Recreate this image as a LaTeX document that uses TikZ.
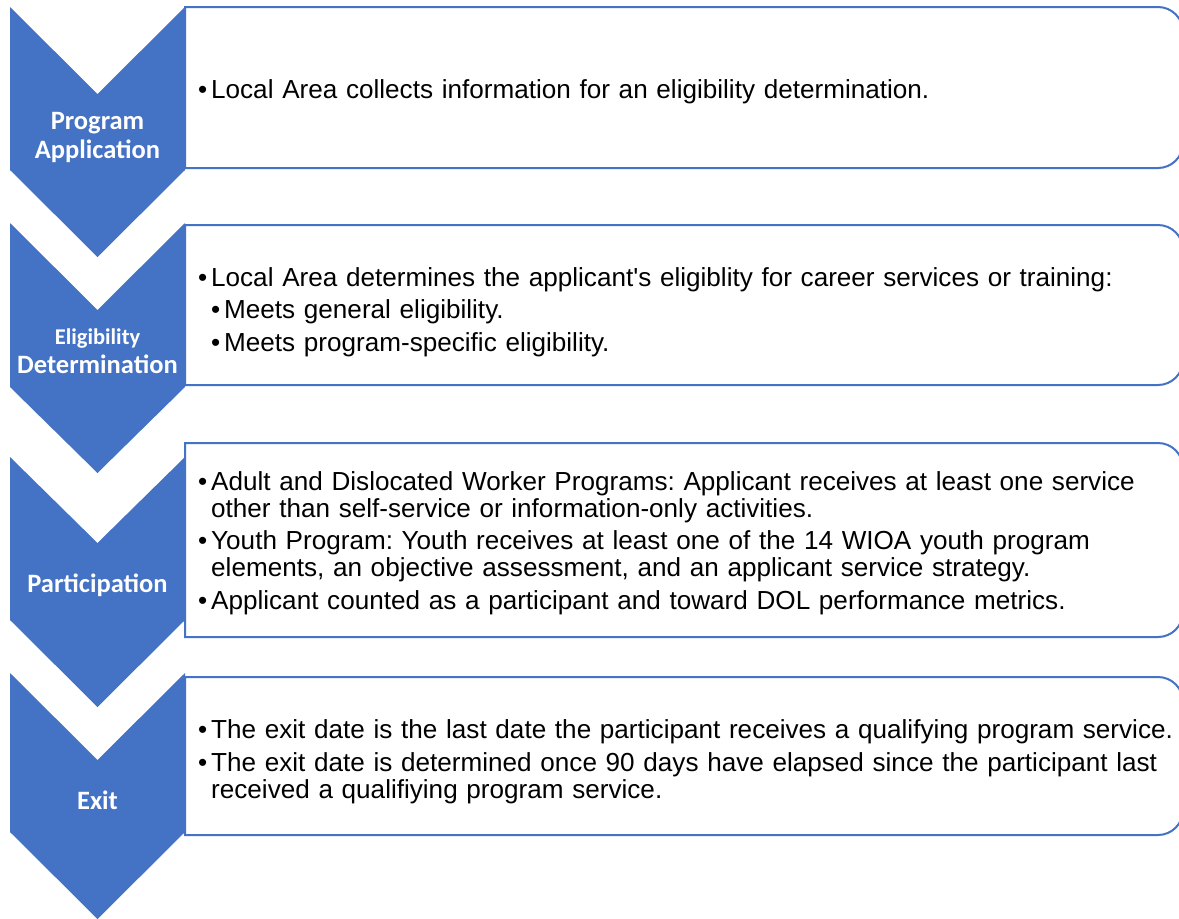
\documentclass[tikz,border=0pt]{standalone}
\usepackage{fontspec}
\setmainfont{Liberation Sans}[Ligatures=TeXOff]
\newfontfamily\chevfont{Carlito}
\usepackage{xcolor}
\usepackage{tikz}
\definecolor{stepblue}{HTML}{4472C4}
\frenchspacing
\newcommand{\stepitem}[2][5.5pt]{\par\parskip=#1\relax\noindent\hangindent=13pt\hangafter=1\makebox[13pt][l]{•}#2\par}
\newcommand{\substepitem}[2][5.5pt]{\par\parskip=#1\relax\noindent\hangindent=26pt\hangafter=1\hspace*{13pt}\makebox[13pt][l]{•}#2\par}

\begin{document}
\begin{tikzpicture}[x=1pt,y=1pt,
    chev/.style={fill=stepblue},
    stepbox/.style={draw=stepblue,line width=2pt},
    lbl/.style={text=white,align=center,font=\chevfont\bfseries\fontsize{26.5}{29}\selectfont},
    txt/.style={anchor=west,inner sep=0pt,text width=1000pt,font=\fontsize{26.1}{27}\selectfont}]
    \clip (0,0) rectangle (1179,-919);
    \fill[white] (0,0) rectangle (1179,-919);
      % Program Application
      \draw[stepbox] (185,-7) -- (1158,-7) arc[start angle=90,end angle=0,radius=25] -- (1183,-143) arc[start angle=0,end angle=-90,radius=25] -- (185,-168) -- cycle;
      \fill[chev] (10,-7) -- (97.5,-94) -- (185,-7) -- (185,-170) -- (97.5,-257) -- (10,-170) -- cycle;
      \node[lbl] (app) at (97.5,-137) {Program\\Application};
      \node[txt] (apptext) at (198,-84.5) {\stepitem{Local Area collects information for an eligibility determination.}};
      % Eligibility Determination
      \draw[stepbox] (185,-225) -- (1158,-225) arc[start angle=90,end angle=0,radius=25] -- (1183,-360) arc[start angle=0,end angle=-90,radius=25] -- (185,-385) -- cycle;
      \fill[chev] (10,-223) -- (97.5,-310) -- (185,-223) -- (185,-387) -- (97.5,-473) -- (10,-387) -- cycle;
      \node[lbl] (elig) at (97.5,-351) {{\fontsize{22.5}{26}\selectfont Eligibility}\\Determination};
      \node[txt] (eligtext) at (198,-305) {\stepitem{Local Area determines the applicant's eligiblity for career services or training:}
        \substepitem{Meets general eligibility.}
        \substepitem{Meets program-specific eligibility.}};
      % Participation
      \draw[stepbox] (185,-443) -- (1158,-443) arc[start angle=90,end angle=0,radius=25] -- (1183,-612) arc[start angle=0,end angle=-90,radius=25] -- (185,-637) -- cycle;
      \fill[chev] (10,-457) -- (97.5,-543) -- (185,-457) -- (185,-620) -- (97.5,-707) -- (10,-620) -- cycle;
      \node[lbl] (part) at (97.5,-585) {Participation};
      \node[txt] (parttext) at (198,-536) {\stepitem{Adult and Dislocated Worker Programs: Applicant receives at least one service\newline other than self-service or information-only activities.}
        \stepitem{Youth Program: Youth receives at least one of the 14 WIOA youth program\newline elements, an objective assessment, and an applicant service strategy.}
        \stepitem{Applicant counted as a participant and toward DOL performance metrics.}};
      % Exit
      \draw[stepbox] (185,-677) -- (1158,-677) arc[start angle=90,end angle=0,radius=25] -- (1183,-810) arc[start angle=0,end angle=-90,radius=25] -- (185,-835) -- cycle;
      \fill[chev] (10,-673) -- (97.5,-760) -- (185,-673) -- (185,-832) -- (97.5,-919) -- (10,-832) -- cycle;
      \node[lbl] (exit) at (97.5,-800) {Exit};
      \node[txt] (exittext) at (198,-755) {\stepitem{The exit date is the last date the participant receives a qualifying program service.}
        \stepitem{The exit date is determined once 90 days have elapsed since the participant last\newline received a qualifiying program service.}};
    \end{tikzpicture}
\end{document}
